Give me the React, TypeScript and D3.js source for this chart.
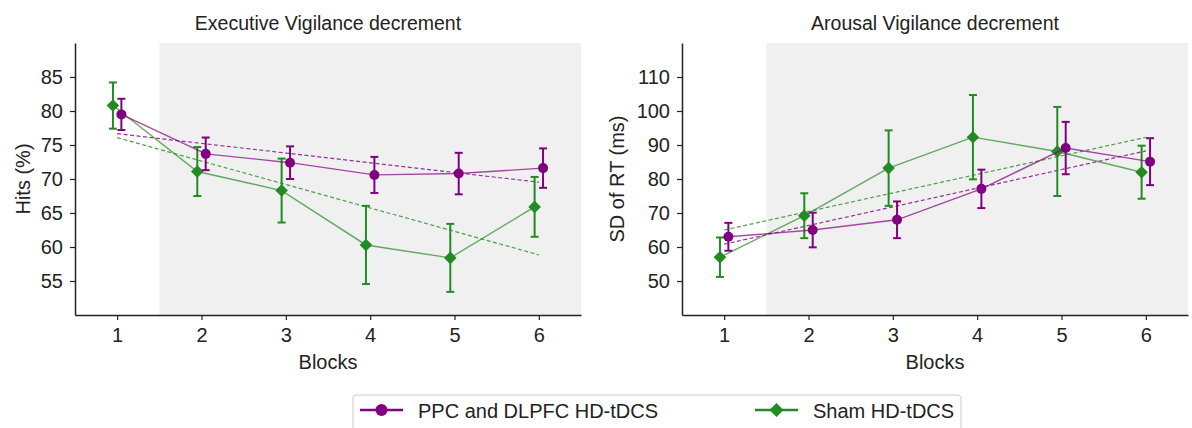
import React, { useEffect, useRef } from 'react';
import * as d3 from 'd3';

const blocks = [1, 2, 3, 4, 5, 6];

// Executive vigilance: hits (%)
const execActive = [79.5, 73.7, 72.4, 70.6, 70.8, 71.6];
const execActiveErr = [2.3, 2.4, 2.4, 2.65, 3.05, 2.9];
const execSham = [80.8, 71.1, 68.3, 60.3, 58.4, 65.9];
const execShamErr = [3.4, 3.6, 4.7, 5.75, 5.0, 4.4];
const execTicks = [55, 60, 65, 70, 75, 80, 85];

// Arousal vigilance: SD of RT (ms)
const arousActive = [63, 65, 68, 77.1, 89.1, 85.1];
const arousActiveErr = [4.1, 5.1, 5.4, 5.65, 7.7, 6.9];
const arousSham = [57, 69.2, 83.2, 92.3, 88.1, 82];
const arousShamErr = [5.8, 6.6, 11.1, 12.4, 13.1, 7.8];
const arousTicks = [50, 60, 70, 80, 90, 100, 110];

const PURPLE = '#800080';
const GREEN = '#228b22';
const FONT = '"Liberation Sans", Arial, sans-serif';

const fitLine = (ys) => {
    const mx = d3.mean(blocks);
    const my = d3.mean(ys);
    let num = 0;
    let den = 0;
    blocks.forEach((x, i) => {
        num += (x - mx) * (ys[i] - my);
        den += (x - mx) * (x - mx);
    });
    const slope = num / den;
    return (x) => my + slope * (x - mx);
};

const diamondPath = (r) => `M0,${-r}L${r},0L0,${r}L${-r},0Z`;

const App = () => {
    const chartRef = useRef(null);

    useEffect(() => {
        const width = 1192;
        const height = 428;

        const svg = d3.select(chartRef.current)
            .append('svg')
            .attr('width', width)
            .attr('height', height)
            .style('position', 'absolute')
            .style('left', 0)
            .style('top', 0)
            .style('font-family', FONT);

        const panels = [
            {
                title: 'Executive Vigilance decrement',
                ylabel: 'Hits (%)',
                left: 75, right: 581, labelX: 30,
                domain: [50, 90], ticks: execTicks,
                series: [
                    { vals: execSham, errs: execShamErr, color: GREEN, shape: 'diamond', off: -0.05 },
                    { vals: execActive, errs: execActiveErr, color: PURPLE, shape: 'circle', off: 0.05 },
                ],
            },
            {
                title: 'Arousal Vigilance decrement',
                ylabel: 'SD of RT (ms)',
                left: 682, right: 1188, labelX: 624,
                domain: [40, 120], ticks: arousTicks,
                series: [
                    { vals: arousSham, errs: arousShamErr, color: GREEN, shape: 'diamond', off: -0.05 },
                    { vals: arousActive, errs: arousActiveErr, color: PURPLE, shape: 'circle', off: 0.05 },
                ],
            },
        ];

        const top = 43;
        const bottom = 315;

        panels.forEach((p) => {
            const x = d3.scaleLinear().domain([0.5, 6.5]).range([p.left, p.right]);
            const y = d3.scaleLinear().domain(p.domain).range([bottom, top]);
            const g = svg.append('g');

            // shaded region after block 1
            g.append('rect')
                .attr('x', x(1.5))
                .attr('y', top)
                .attr('width', x(6.5) - x(1.5))
                .attr('height', bottom - top)
                .attr('fill', '#f0f0f0');

            // trend lines
            p.series.forEach((s) => {
                const f = fitLine(s.vals);
                g.append('line')
                    .attr('x1', x(1)).attr('y1', y(f(1)))
                    .attr('x2', x(6)).attr('y2', y(f(6)))
                    .attr('stroke', s.color)
                    .attr('stroke-width', 1.2)
                    .attr('stroke-dasharray', '4,2.5')
                    .attr('opacity', 0.8);
            });

            p.series.forEach((s) => {
                const line = d3.line()
                    .x((d, i) => x(blocks[i] + s.off))
                    .y((d) => y(d));
                g.append('path')
                    .attr('d', line(s.vals))
                    .attr('fill', 'none')
                    .attr('stroke', s.color)
                    .attr('stroke-width', 1.4)
                    .attr('opacity', 0.7);

                const eb = g.append('g')
                    .attr('stroke', s.color)
                    .attr('stroke-width', 2);
                s.vals.forEach((v, i) => {
                    const cx = x(blocks[i] + s.off);
                    eb.append('line')
                        .attr('x1', cx).attr('x2', cx)
                        .attr('y1', y(v - s.errs[i])).attr('y2', y(v + s.errs[i]));
                    [v - s.errs[i], v + s.errs[i]].forEach((e) => {
                        eb.append('line')
                            .attr('x1', cx - 4).attr('x2', cx + 4)
                            .attr('y1', y(e)).attr('y2', y(e));
                    });
                });

                s.vals.forEach((v, i) => {
                    const cx = x(blocks[i] + s.off);
                    if (s.shape === 'circle') {
                        g.append('circle')
                            .attr('cx', cx).attr('cy', y(v))
                            .attr('r', 5)
                            .attr('fill', s.color);
                    } else {
                        g.append('path')
                            .attr('d', diamondPath(6.3))
                            .attr('transform', `translate(${cx},${y(v)})`)
                            .attr('fill', s.color);
                    }
                });
            });

            // axes
            const xAxis = g.append('g')
                .attr('transform', `translate(0,${bottom})`)
                .call(d3.axisBottom(x).tickValues(blocks).tickFormat(d3.format('d'))
                    .tickSize(5).tickPadding(8).tickSizeOuter(0));
            const yAxis = g.append('g')
                .attr('transform', `translate(${p.left},0)`)
                .call(d3.axisLeft(y).tickValues(p.ticks).tickFormat(d3.format('d'))
                    .tickSize(5).tickPadding(7).tickSizeOuter(0));
            [xAxis, yAxis].forEach((a) => {
                a.select('.domain').attr('stroke', '#222').attr('stroke-width', 1.5);
                a.selectAll('.tick line').attr('stroke', '#222').attr('stroke-width', 1.2);
                a.selectAll('.tick text')
                    .attr('fill', '#222')
                    .style('font-size', '20px')
                    .style('font-family', FONT);
            });

            const mid = (p.left + p.right) / 2;
            g.append('text')
                .attr('x', mid)
                .attr('y', 30)
                .attr('text-anchor', 'middle')
                .attr('fill', '#222')
                .style('font-size', '19.5px')
                .text(p.title);

            g.append('text')
                .attr('x', mid)
                .attr('y', 369)
                .attr('text-anchor', 'middle')
                .attr('fill', '#222')
                .style('font-size', '20px')
                .text('Blocks');

            g.append('text')
                .attr('transform', `translate(${p.labelX},${(top + bottom) / 2}) rotate(-90)`)
                .attr('text-anchor', 'middle')
                .attr('fill', '#222')
                .style('font-size', '20px')
                .text(p.ylabel);
        });

        // legend
        const lg = svg.append('g');
        lg.append('rect')
            .attr('x', 353).attr('y', 395)
            .attr('width', 608).attr('height', 40)
            .attr('rx', 3)
            .attr('fill', 'white')
            .attr('stroke', '#cccccc');

        const legendItems = [
            { label: 'PPC and DLPFC HD-tDCS', color: PURPLE, shape: 'circle', x0: 360 },
            { label: 'Sham HD-tDCS', color: GREEN, shape: 'diamond', x0: 755 },
        ];
        legendItems.forEach((it) => {
            const ly = 410;
            lg.append('line')
                .attr('x1', it.x0).attr('x2', it.x0 + 43)
                .attr('y1', ly).attr('y2', ly)
                .attr('stroke', it.color)
                .attr('stroke-width', 2.5);
            if (it.shape === 'circle') {
                lg.append('circle').attr('cx', it.x0 + 21.5).attr('cy', ly).attr('r', 6).attr('fill', it.color);
            } else {
                lg.append('path')
                    .attr('d', diamondPath(7))
                    .attr('transform', `translate(${it.x0 + 21.5},${ly})`)
                    .attr('fill', it.color);
            }
            lg.append('text')
                .attr('x', it.x0 + 58)
                .attr('y', 418)
                .attr('fill', '#222')
                .style('font-size', '20px')
                .text(it.label);
        });

        return () => {
            svg.remove();
        };
    }, []);

    return <div ref={chartRef}></div>;
};

export default App;
